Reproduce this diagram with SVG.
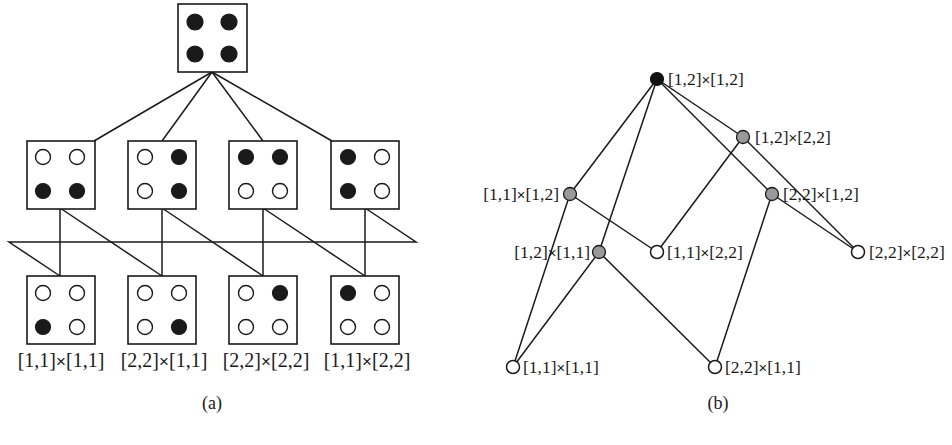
<svg xmlns="http://www.w3.org/2000/svg" width="952" height="445" viewBox="0 0 952 445">
  <style>
    .box { fill: #fff; stroke: #1a1a1a; stroke-width: 1.6; }
    .on { fill: #1a1a1a; stroke: #1a1a1a; stroke-width: 1.2; }
    .off { fill: #fff; stroke: #1a1a1a; stroke-width: 1.4; }
    .edge { stroke: #1a1a1a; stroke-width: 1.5; fill: none; }
    .lbl { font-family: "Liberation Serif", "Times New Roman", serif; fill: #1a1a1a; }
    .la { font-size: 20px; text-anchor: middle; }
    .lb { font-size: 17.5px; }
    .x { font-family: "Liberation Sans", Arial, sans-serif; font-size: 0.85em; }
    .top { fill: #111; stroke: #111; stroke-width: 1.2; }
    .mid { fill: #999; stroke: #1a1a1a; stroke-width: 1.3; }
    .bot { fill: #fff; stroke: #1a1a1a; stroke-width: 1.5; }
  </style>
  <defs>
    <rect id="sq" width="68" height="68" class="box"/>
  </defs>

  <!-- (a) connectors -->
  <g id="connectors-a">
    <line class="edge" x1="212" y1="72" x2="94" y2="141"/>
    <line class="edge" x1="212" y1="72" x2="162" y2="141"/>
    <line class="edge" x1="212" y1="72" x2="263" y2="141"/>
    <line class="edge" x1="212" y1="72" x2="332" y2="141"/>
    <line class="edge" x1="60" y1="208" x2="60" y2="276"/>
    <line class="edge" x1="162" y1="208" x2="162" y2="276"/>
    <line class="edge" x1="263" y1="208" x2="263" y2="276"/>
    <line class="edge" x1="365" y1="208" x2="365" y2="276"/>
    <line class="edge" x1="60" y1="208" x2="162" y2="276"/>
    <line class="edge" x1="162" y1="208" x2="263" y2="276"/>
    <line class="edge" x1="263" y1="208" x2="365" y2="276"/>
    <polyline class="edge" points="365,208 416,242 9,242 60,276"/>
  </g>

  <!-- (a) top: all four set -->
  <g id="a-top">
    <rect class="box" x="178" y="4" width="69" height="68"/>
    <circle class="on" cx="195" cy="22" r="8"/>
    <circle class="on" cx="229" cy="22" r="8"/>
    <circle class="on" cx="195" cy="54" r="8"/>
    <circle class="on" cx="229" cy="54" r="8"/>
  </g>

  <!-- (a) middle row -->
  <g id="a-m1">
    <use href="#sq" x="27" y="141"/>
    <circle class="off" cx="43" cy="157" r="7.5"/>
    <circle class="off" cx="77" cy="157" r="7.5"/>
    <circle class="on" cx="43" cy="191" r="7.5"/>
    <circle class="on" cx="77" cy="191" r="7.5"/>
  </g>
  <g id="a-m2">
    <use href="#sq" x="128" y="141"/>
    <circle class="off" cx="145" cy="157" r="7.5"/>
    <circle class="on" cx="179" cy="157" r="7.5"/>
    <circle class="off" cx="145" cy="191" r="7.5"/>
    <circle class="on" cx="179" cy="191" r="7.5"/>
  </g>
  <g id="a-m3">
    <use href="#sq" x="229" y="141"/>
    <circle class="on" cx="246" cy="157" r="7.5"/>
    <circle class="on" cx="280" cy="157" r="7.5"/>
    <circle class="off" cx="246" cy="191" r="7.5"/>
    <circle class="off" cx="280" cy="191" r="7.5"/>
  </g>
  <g id="a-m4">
    <use href="#sq" x="331" y="141"/>
    <circle class="on" cx="348" cy="157" r="7.5"/>
    <circle class="off" cx="382" cy="157" r="7.5"/>
    <circle class="on" cx="348" cy="191" r="7.5"/>
    <circle class="off" cx="382" cy="191" r="7.5"/>
  </g>

  <!-- (a) bottom row -->
  <g id="a-b1">
    <use href="#sq" x="27" y="276"/>
    <circle class="off" cx="43" cy="293" r="7.5"/>
    <circle class="off" cx="77" cy="293" r="7.5"/>
    <circle class="on" cx="43" cy="327" r="7.5"/>
    <circle class="off" cx="77" cy="327" r="7.5"/>
    <text class="lbl la" x="61" y="367">[1,1]<tspan class="x">×</tspan>[1,1]</text>
  </g>
  <g id="a-b2">
    <use href="#sq" x="128" y="276"/>
    <circle class="off" cx="145" cy="293" r="7.5"/>
    <circle class="off" cx="179" cy="293" r="7.5"/>
    <circle class="off" cx="145" cy="327" r="7.5"/>
    <circle class="on" cx="179" cy="327" r="7.5"/>
    <text class="lbl la" x="164" y="367">[2,2]<tspan class="x">×</tspan>[1,1]</text>
  </g>
  <g id="a-b3">
    <use href="#sq" x="229" y="276"/>
    <circle class="off" cx="246" cy="293" r="7.5"/>
    <circle class="on" cx="280" cy="293" r="7.5"/>
    <circle class="off" cx="246" cy="327" r="7.5"/>
    <circle class="off" cx="280" cy="327" r="7.5"/>
    <text class="lbl la" x="266" y="367">[2,2]<tspan class="x">×</tspan>[2,2]</text>
  </g>
  <g id="a-b4">
    <use href="#sq" x="331" y="276"/>
    <circle class="on" cx="348" cy="293" r="7.5"/>
    <circle class="off" cx="382" cy="293" r="7.5"/>
    <circle class="off" cx="348" cy="327" r="7.5"/>
    <circle class="off" cx="382" cy="327" r="7.5"/>
    <text class="lbl la" x="367" y="367">[1,1]<tspan class="x">×</tspan>[2,2]</text>
  </g>

  <text class="lbl" x="212" y="409" font-size="18" text-anchor="middle">(a)</text>

  <!-- (b) connectors -->
  <g id="connectors-b">
    <line class="edge" x1="657" y1="79" x2="570" y2="194"/>
    <line class="edge" x1="657" y1="79" x2="599" y2="252"/>
    <line class="edge" x1="657" y1="79" x2="743" y2="137"/>
    <line class="edge" x1="657" y1="79" x2="772" y2="194"/>
    <line class="edge" x1="743" y1="137" x2="657" y2="252"/>
    <line class="edge" x1="743" y1="137" x2="858" y2="252"/>
    <line class="edge" x1="772" y1="194" x2="858" y2="252"/>
    <line class="edge" x1="772" y1="194" x2="715" y2="367"/>
    <line class="edge" x1="570" y1="194" x2="657" y2="252"/>
    <line class="edge" x1="570" y1="194" x2="513" y2="367"/>
    <line class="edge" x1="599" y1="252" x2="513" y2="367"/>
    <line class="edge" x1="599" y1="252" x2="715" y2="367"/>
  </g>

  <g id="b-12x12">
    <circle class="top" cx="657" cy="79" r="6.5"/>
    <text class="lbl lb" x="668" y="85">[1,2]<tspan class="x">×</tspan>[1,2]</text>
  </g>
  <g id="b-12x22">
    <circle class="mid" cx="743" cy="137" r="6.5"/>
    <text class="lbl lb" x="755" y="143">[1,2]<tspan class="x">×</tspan>[2,2]</text>
  </g>
  <g id="b-11x12">
    <circle class="mid" cx="570" cy="194" r="6.5"/>
    <text class="lbl lb" x="559" y="200" text-anchor="end">[1,1]<tspan class="x">×</tspan>[1,2]</text>
  </g>
  <g id="b-22x12">
    <circle class="mid" cx="772" cy="194" r="6.5"/>
    <text class="lbl lb" x="783" y="200">[2,2]<tspan class="x">×</tspan>[1,2]</text>
  </g>
  <g id="b-12x11">
    <circle class="mid" cx="599" cy="252" r="6.5"/>
    <text class="lbl lb" x="590" y="258" text-anchor="end">[1,2]<tspan class="x">×</tspan>[1,1]</text>
  </g>
  <g id="b-11x22">
    <circle class="bot" cx="657" cy="252" r="6.5"/>
    <text class="lbl lb" x="667" y="258">[1,1]<tspan class="x">×</tspan>[2,2]</text>
  </g>
  <g id="b-22x22">
    <circle class="bot" cx="858" cy="252" r="6.5"/>
    <text class="lbl lb" x="869" y="258">[2,2]<tspan class="x">×</tspan>[2,2]</text>
  </g>
  <g id="b-11x11">
    <circle class="bot" cx="513" cy="367" r="6.5"/>
    <text class="lbl lb" x="523" y="373">[1,1]<tspan class="x">×</tspan>[1,1]</text>
  </g>
  <g id="b-22x11">
    <circle class="bot" cx="715" cy="367" r="6.5"/>
    <text class="lbl lb" x="725" y="373">[2,2]<tspan class="x">×</tspan>[1,1]</text>
  </g>

  <text class="lbl" x="718" y="409" font-size="18" text-anchor="middle">(b)</text>
</svg>
